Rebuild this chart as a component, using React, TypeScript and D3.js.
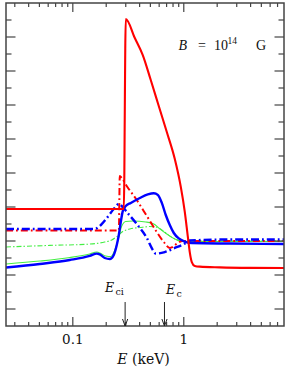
import React from "react";
import * as d3 from "d3";

// Energy (keV) / arbitrary y-value pairs
const redSolid: [number, number][] = [
  [0.025, 6.88], [0.2763, 6.88], [0.288, 6.88], [0.3, 18.06], [0.362, 16.94], [0.427, 15.94],
  [0.504, 14.47], [0.595, 12.94], [0.703, 11.41], [0.83, 9.82], [0.94, 8.18], [1.021, 6.71],
  [1.086, 5.29], [1.132, 4.35], [1.181, 3.76], [1.256, 3.53], [1.394, 3.49], [2.11, 3.45],
  [3.93, 3.42], [8, 3.41],
];
const blueSolid: [number, number][] = [
  [0.025, 3.44], [0.0504, 3.65], [0.0939, 3.88], [0.142, 4.12], [0.1645, 4.26], [0.175, 4.21],
  [0.194, 4.0], [0.2155, 3.94], [0.234, 4.18], [0.249, 4.76], [0.2597, 5.35], [0.2706, 6.12],
  [0.282, 6.76], [0.3, 7.06], [0.333, 7.24], [0.402, 7.53], [0.474, 7.74], [0.537, 7.81],
  [0.583, 7.71], [0.634, 7.24], [0.688, 6.53], [0.748, 5.94], [0.813, 5.47], [0.901, 5.15],
  [1.021, 4.97], [1.181, 4.88], [2.6, 4.85], [8, 4.82],
];
const blueDashDot: [number, number][] = [
  [0.025, 5.71], [0.158, 5.71], [0.175, 5.88], [0.2025, 6.35], [0.234, 6.88], [0.26, 7.18],
  [0.276, 7.06], [0.306, 6.71], [0.377, 6.0], [0.4645, 5.18], [0.526, 4.47], [0.56, 4.26],
  [0.674, 4.35], [0.83, 4.59], [1.0, 4.82], [1.132, 5.03], [2.6, 5.09], [8, 5.09],
];
const redDashDot: [number, number][] = [
  [0.025, 5.62], [0.26, 5.62], [0.265, 8.82], [0.276, 8.71], [0.306, 8.24], [0.377, 7.41],
  [0.4645, 6.47], [0.571, 5.53], [0.661, 4.94], [0.748, 4.59], [0.796, 4.65], [0.865, 4.85],
  [0.979, 5.0], [1.181, 5.0], [8, 5.0],
];
const greenSolid: [number, number][] = [
  [0.025, 3.65], [0.0504, 3.82], [0.0939, 4.03], [0.142, 4.24], [0.1645, 4.35], [0.179, 4.26],
  [0.198, 4.12], [0.22, 4.09], [0.239, 4.47], [0.26, 5.24], [0.276, 5.88], [0.3, 6.15],
  [0.347, 6.18], [0.455, 6.12], [0.537, 6.0], [0.608, 5.71], [0.703, 5.41], [0.83, 5.12],
  [0.959, 5.0], [1.181, 4.97], [8, 4.97],
];
const greenDashDot: [number, number][] = [
  [0.025, 4.65], [0.0621, 4.74], [0.142, 4.82], [0.194, 4.94], [0.2245, 5.06], [0.249, 5.26],
  [0.282, 5.56], [0.3265, 5.71], [0.402, 5.79], [0.494, 5.85], [0.56, 5.82], [0.634, 5.65],
  [0.718, 5.38], [0.83, 5.12], [0.979, 4.97], [1.181, 5.0], [8, 5.0],
];

const xMajorTicks = [0.1, 1];
const xMinorTicks = [0.03, 0.04, 0.05, 0.06, 0.07, 0.08, 0.09, 0.2, 0.3, 0.4, 0.5, 0.6, 0.7, 0.8, 0.9, 2, 3, 4, 5, 6, 7];
const xTickLabels = ["0.1", "1"];
const yTicks = d3.range(1, 19);
const E_ci = 0.296;
const E_c = 0.67;

const W = 286, H = 374;
const L = 6, R = 284, T = 3, B = 326;

export default function App() {
  const x = d3.scaleLog().domain([0.025, 8]).range([L, R]);
  const y = d3.scaleLinear().domain([0, 19]).range([B, T]);
  const line = d3
    .line<[number, number]>()
    .x((d) => x(d[0]))
    .y((d) => y(d[1]))
    .curve(d3.curveMonotoneX);

  const frame = "#444";
  const serif = "'DejaVu Serif', serif";
  const times = "'Liberation Serif', serif";
  const arrow = (e: number) => {
    const ax = x(e);
    return (
      <g stroke="#222" strokeWidth={1} fill="none">
        <line x1={ax} x2={ax} y1={302} y2={B} />
        <polyline points={`${ax - 2.6},${B - 7} ${ax},${B} ${ax + 2.6},${B - 7}`} />
      </g>
    );
  };

  return (
    <svg width={W} height={H} style={{ position: "absolute", left: 0, top: 0, background: "#fff" }}>
      <defs>
        <clipPath id="clip">
          <rect x={L} y={T} width={R - L} height={B - T} />
        </clipPath>
      </defs>
      <g clipPath="url(#clip)">
        <path d={line(greenDashDot) || ""} fill="none" stroke="#44ee44" strokeWidth={1.1} strokeDasharray="5,2,1.5,2" />
        <path d={line(greenSolid) || ""} fill="none" stroke="#44ee44" strokeWidth={1.1} />
        <path d={line(redDashDot) || ""} fill="none" stroke="#ff0000" strokeWidth={2} strokeDasharray="7,3,1.8,3" />
        <path d={line(blueDashDot) || ""} fill="none" stroke="#0000ff" strokeWidth={2.4} strokeDasharray="8,3,1.8,3" />
        <path d={line(blueSolid) || ""} fill="none" stroke="#0000ff" strokeWidth={2.4} />
        <path d={line(redSolid) || ""} fill="none" stroke="#ff0000" strokeWidth={2.1} />
      </g>

      <g stroke={frame} strokeWidth={1.2}>
        {xMajorTicks.map((t) => (
          <g key={"M" + t}>
            <line x1={x(t)} x2={x(t)} y1={B} y2={B - 9} />
            <line x1={x(t)} x2={x(t)} y1={T} y2={T + 9} />
          </g>
        ))}
        {xMinorTicks.map((t) => (
          <g key={"m" + t}>
            <line x1={x(t)} x2={x(t)} y1={B} y2={B - 4} />
            <line x1={x(t)} x2={x(t)} y1={T} y2={T + 4} />
          </g>
        ))}
        {yTicks.map((t) => {
          const len = t % 2 === 1 ? 9.5 : 5.5;
          return (
            <g key={"y" + t}>
              <line x1={L} x2={L + len} y1={y(t)} y2={y(t)} />
              <line x1={R} x2={R - len} y1={y(t)} y2={y(t)} />
            </g>
          );
        })}
        <rect x={L} y={T} width={R - L} height={B - T} fill="none" strokeWidth={1.5} />
      </g>

      <g fontFamily={serif} fontSize={13.5} fill="#111" textAnchor="middle">
        {xMajorTicks.map((t, i) => (
          <text key={t} x={x(t)} y={344}>
            {xTickLabels[i]}
          </text>
        ))}
      </g>

      <text x={143.5} y={364} fontFamily={serif} fontSize={14} fill="#111" textAnchor="middle">
        <tspan fontStyle="italic">E</tspan>
        <tspan> (keV)</tspan>
      </text>

      <g fontFamily={serif} fill="#111">
        <text x={105} y={292} fontSize={12.5} fontStyle="italic">E</text>
        <text x={115.5} y={294.5} fontSize={9.5}>ci</text>
        <text x={166} y={293.5} fontSize={12.5} fontStyle="italic">E</text>
        <text x={176.5} y={296.5} fontSize={9.5}>c</text>
      </g>
      {arrow(E_ci)}
      {arrow(E_c)}

      <g fontFamily={times} fill="#111" fontSize={14}>
        <text x={178.5} y={50} fontStyle="italic">B</text>
        <text x={198} y={50}>=</text>
        <text x={214} y={50}>10</text>
        <text x={227.5} y={44} fontSize={9.5}>14</text>
        <text x={256} y={50}>G</text>
      </g>
    </svg>
  );
}
